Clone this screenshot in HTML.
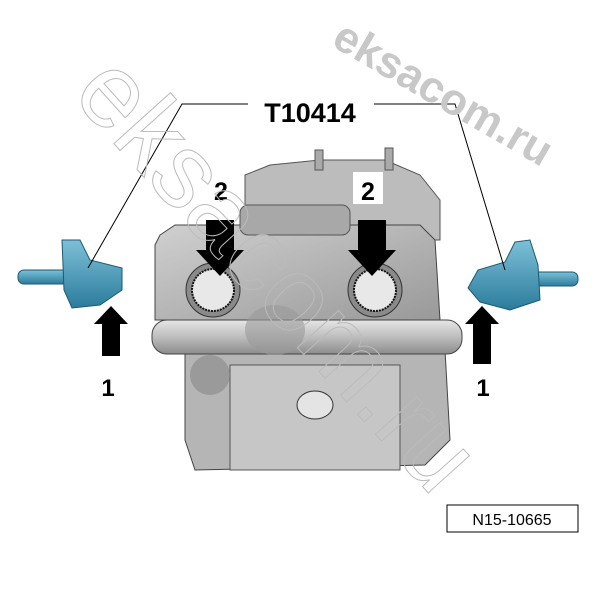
<!DOCTYPE html>
<html><head><style>body{margin:0;background:#fff}svg{display:block}</style></head><body>
<svg width="600" height="600" viewBox="0 0 600 600" xmlns="http://www.w3.org/2000/svg" font-family="Liberation Sans, sans-serif">
<defs>
<linearGradient id="g" x1="0" y1="0" x2="1" y2="1"><stop offset="0" stop-color="#d0d0d0"/><stop offset="1" stop-color="#999"/></linearGradient>
<linearGradient id="t" x1="0" y1="0" x2="0" y2="1"><stop offset="0" stop-color="#e6e6e6"/><stop offset="0.5" stop-color="#bdbdbd"/><stop offset="1" stop-color="#8c8c8c"/></linearGradient>
<linearGradient id="b" x1="0" y1="0" x2="0" y2="1"><stop offset="0" stop-color="#7ec0d8"/><stop offset="1" stop-color="#2a7c9c"/></linearGradient>
</defs>
<path d="M245 175 L270 165 L320 160 L385 160 L420 175 L440 200 L440 240 L245 240 Z" fill="#bcbcbc" stroke="#555" stroke-width="1"/>
<rect x="315" y="150" width="8" height="20" fill="#aaa" stroke="#555"/><rect x="385" y="148" width="8" height="22" fill="#aaa" stroke="#555"/>
<path d="M160 235 L175 225 L420 225 L435 240 L440 320 L155 320 L155 245 Z" fill="url(#g)" stroke="#444" stroke-width="1"/>
<rect x="240" y="205" width="110" height="30" rx="8" fill="#a8a8a8" stroke="#555"/>
<circle cx="213" cy="290" r="27" fill="#8a8a8a" stroke="#333"/>
<circle cx="213" cy="290" r="21" fill="#e8e8e8" stroke="#111" stroke-width="2" stroke-dasharray="2 1"/>
<circle cx="375" cy="290" r="27" fill="#8a8a8a" stroke="#333"/>
<circle cx="375" cy="290" r="21" fill="#e8e8e8" stroke="#111" stroke-width="2" stroke-dasharray="2 1"/>
<path d="M185 350 L445 350 L450 440 L425 465 L195 470 L185 440 Z" fill="#b5b5b5" stroke="#444"/>
<rect x="230" y="365" width="170" height="105" fill="#c6c6c6" stroke="#555"/>
<ellipse cx="315" cy="405" rx="18" ry="14" fill="#e4e4e4" stroke="#333"/>
<rect x="152" y="320" width="310" height="34" rx="15" fill="url(#t)" stroke="#444"/>
<ellipse cx="275" cy="330" rx="30" ry="25" fill="#999" opacity="0.6"/>
<ellipse cx="210" cy="375" rx="20" ry="20" fill="#888" opacity="0.6"/>
<rect x="18" y="270" width="60" height="14" rx="6" fill="url(#b)" stroke="#1d5a70"/>
<path d="M62 240 L80 240 L90 260 L122 268 L122 290 L100 305 L72 308 L64 290 Z" fill="url(#b)" stroke="#1d5a70"/>
<rect x="520" y="272" width="58" height="14" rx="6" fill="url(#b)" stroke="#1d5a70"/>
<path d="M515 242 L530 240 L538 265 L540 300 L510 310 L480 302 L468 288 L478 270 L505 262 Z" fill="url(#b)" stroke="#1d5a70"/>
<polyline points="248,104 182,104 88,268" fill="none" stroke="#000" stroke-width="1"/>
<polyline points="374,104 455,104 505,270" fill="none" stroke="#000" stroke-width="1"/>
<text x="310" y="122" font-size="27" font-weight="bold" text-anchor="middle">T10414</text>
<polygon points="111,306 128,324 120,324 120,356 102,356 102,324 94,324" fill="#000"/>
<polygon points="482,306 499,324 491,324 491,364 473,364 473,324 465,324" fill="#000"/>
<text x="108" y="396" font-size="24" font-weight="bold" text-anchor="middle">1</text>
<text x="483" y="396" font-size="24" font-weight="bold" text-anchor="middle">1</text>
<rect x="207" y="172" width="30" height="32" fill="#fff"/>
<text x="221" y="200" font-size="25" font-weight="bold" text-anchor="middle">2</text>
<polygon points="206,220 234,220 234,250 244,250 220,276 196,250 206,250" fill="#000"/>
<rect x="353" y="172" width="30" height="32" fill="#fff"/>
<text x="368" y="200" font-size="25" font-weight="bold" text-anchor="middle">2</text>
<polygon points="358,220 386,220 386,250 396,250 372,276 348,250 358,250" fill="#000"/>
<text x="0" y="0" font-size="44" font-weight="bold" fill="#c8c8c8" transform="translate(330,45) rotate(30)">eksacom.ru</text>
<text x="0" y="0" font-size="105" fill="none" stroke="#bbb" stroke-width="1" transform="translate(70,95) rotate(48)">eksacom.ru</text>
<rect x="447" y="505" width="131" height="27" fill="#fff" stroke="#000"/>
<text x="512" y="525" font-size="16" text-anchor="middle">N15-10665</text>
</svg>
</body></html>
